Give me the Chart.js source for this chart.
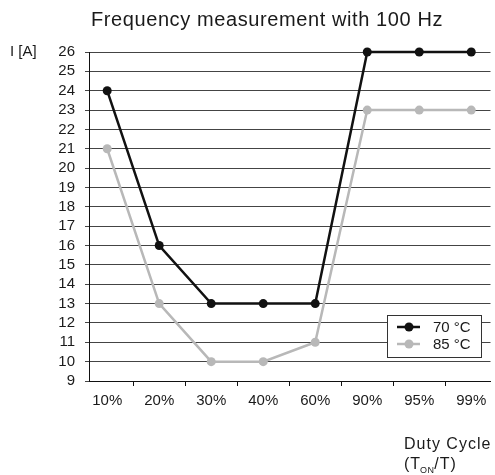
<!DOCTYPE html>
<html><head><meta charset="utf-8">
<script src="https://cdn.jsdelivr.net/npm/chart.js@4/dist/chart.umd.min.js"></script>
<style>html,body{margin:0;padding:0;background:#fff;overflow:hidden}#wrap{width:495px;height:475px;position:relative}</style>
</head><body><div id="wrap"><canvas id="c" width="495" height="475"></canvas></div>
<script>
const categories = ['10%','20%','30%','40%','60%','90%','95%','99%'];
const series70 = [24,16,13,13,13,26,26,26];
const series85 = [21,13,10,10,11,23,23,23];
const seriesLabels = ['70 °C','85 °C'];
const yMin = 9, yMax = 26, yStep = 1;
const titleText = 'Frequency measurement with 100 Hz';
const yAxisLabel = 'I [A]';
const xAxisLabel1 = 'Duty Cycle';

const FONT = '"Liberation Sans", Arial, Helvetica, sans-serif';
Chart.defaults.font.family = FONT;

const setLS = (ctx, v) => { try { ctx.letterSpacing = v; } catch(e) {} };

const textPlugin = {
  id: 'texts',
  afterDraw(chart) {
    const ctx = chart.ctx;
    const ys = chart.scales.y;
    ctx.save();
    ctx.fillStyle = '#1a1a1a';
    // title
    ctx.font = '20px ' + FONT;
    setLS(ctx, '0.6px');
    ctx.textAlign = 'center';
    ctx.textBaseline = 'alphabetic';
    ctx.fillText(titleText, 267, 26);
    setLS(ctx, '0px');
    // y label
    ctx.font = '15px ' + FONT;
    ctx.textAlign = 'left';
    ctx.textBaseline = 'middle';
    ctx.fillText(yAxisLabel, 10, ys.getPixelForValue(yMax));
    // x axis title
    ctx.textBaseline = 'alphabetic';
    ctx.font = '16px ' + FONT;
    setLS(ctx, '1px');
    ctx.fillText(xAxisLabel1, 404, 449);
    let x = 404;
    ctx.fillText('(T', x, 469); x += ctx.measureText('(T').width - 1;
    ctx.font = '9px ' + FONT;
    setLS(ctx, '0.3px');
    ctx.fillText('ON', x, 473); x += ctx.measureText('ON').width;
    ctx.font = '16px ' + FONT;
    setLS(ctx, '1px');
    ctx.fillText('/T)', x, 469);
    setLS(ctx, '0px');
    // legend
    const bx = 387, by = 315, bw = 94, bh = 42;
    ctx.fillStyle = '#fff';
    ctx.fillRect(bx, by, bw, bh);
    ctx.strokeStyle = '#333';
    ctx.lineWidth = 1;
    ctx.strokeRect(bx + 0.5, by + 0.5, bw, bh);
    chart.data.datasets.forEach((ds, i) => {
      const cy = by + 12 + i * 17;
      ctx.strokeStyle = ds.borderColor;
      ctx.lineWidth = 2.5;
      ctx.beginPath(); ctx.moveTo(bx + 10, cy); ctx.lineTo(bx + 33, cy); ctx.stroke();
      ctx.fillStyle = ds.borderColor;
      ctx.beginPath(); ctx.arc(bx + 22, cy, 4.5, 0, Math.PI * 2); ctx.fill();
      ctx.fillStyle = '#1a1a1a';
      ctx.font = '15px ' + FONT;
      ctx.textAlign = 'left';
      ctx.textBaseline = 'middle';
      ctx.fillText(ds.label, bx + 46, cy + 1);
    });
    ctx.restore();
  }
};

const mk = (label, arr, color) => ({
  label,
  data: arr.map((v, i) => ({x: i, y: v})),
  borderColor: color,
  backgroundColor: color,
  borderWidth: 2.5,
  pointRadius: 4.5,
  pointHoverRadius: 4.5,
  pointBorderWidth: 0,
  tension: 0,
  clip: false
});

new Chart(document.getElementById('c'), {
  type: 'line',
  data: {
    datasets: [
      mk(seriesLabels[0], series70, '#111111'),
      mk(seriesLabels[1], series85, '#b8b8b8')
    ]
  },
  options: {
    responsive: false,
    animation: false,
    events: [],
    layout: { padding: { top: 52, right: 2, left: 0, bottom: 0 } },
    plugins: { legend: { display: false }, tooltip: { enabled: false }, title: { display: false } },
    scales: {
      x: {
        type: 'linear',
        position: 'bottom',
        min: -0.35,
        max: 7.37,
        afterBuildTicks: s => { s.ticks = categories.map((_, i) => ({ value: i })); },
        afterFit: s => { s.height = 94; },
        ticks: {
          callback: v => categories[v] ?? '',
          autoSkip: false,
          maxRotation: 0,
          font: { size: 15 },
          color: '#1a1a1a',
          padding: 6
        },
        grid: { offset: true, drawOnChartArea: false, drawTicks: true, tickLength: 5, color: '#111' },
        border: { display: true, color: '#111', width: 1 }
      },
      y: {
        min: yMin,
        max: yMax,
        afterFit: s => { s.width = 89; },
        ticks: { stepSize: yStep, autoSkip: false, font: { size: 15 }, color: '#1a1a1a', padding: 10 },
        grid: { color: '#444', lineWidth: 1, tickLength: 4 },
        border: { display: true, color: '#111', width: 1 }
      }
    }
  },
  plugins: [textPlugin]
});
</script>
</body></html>
